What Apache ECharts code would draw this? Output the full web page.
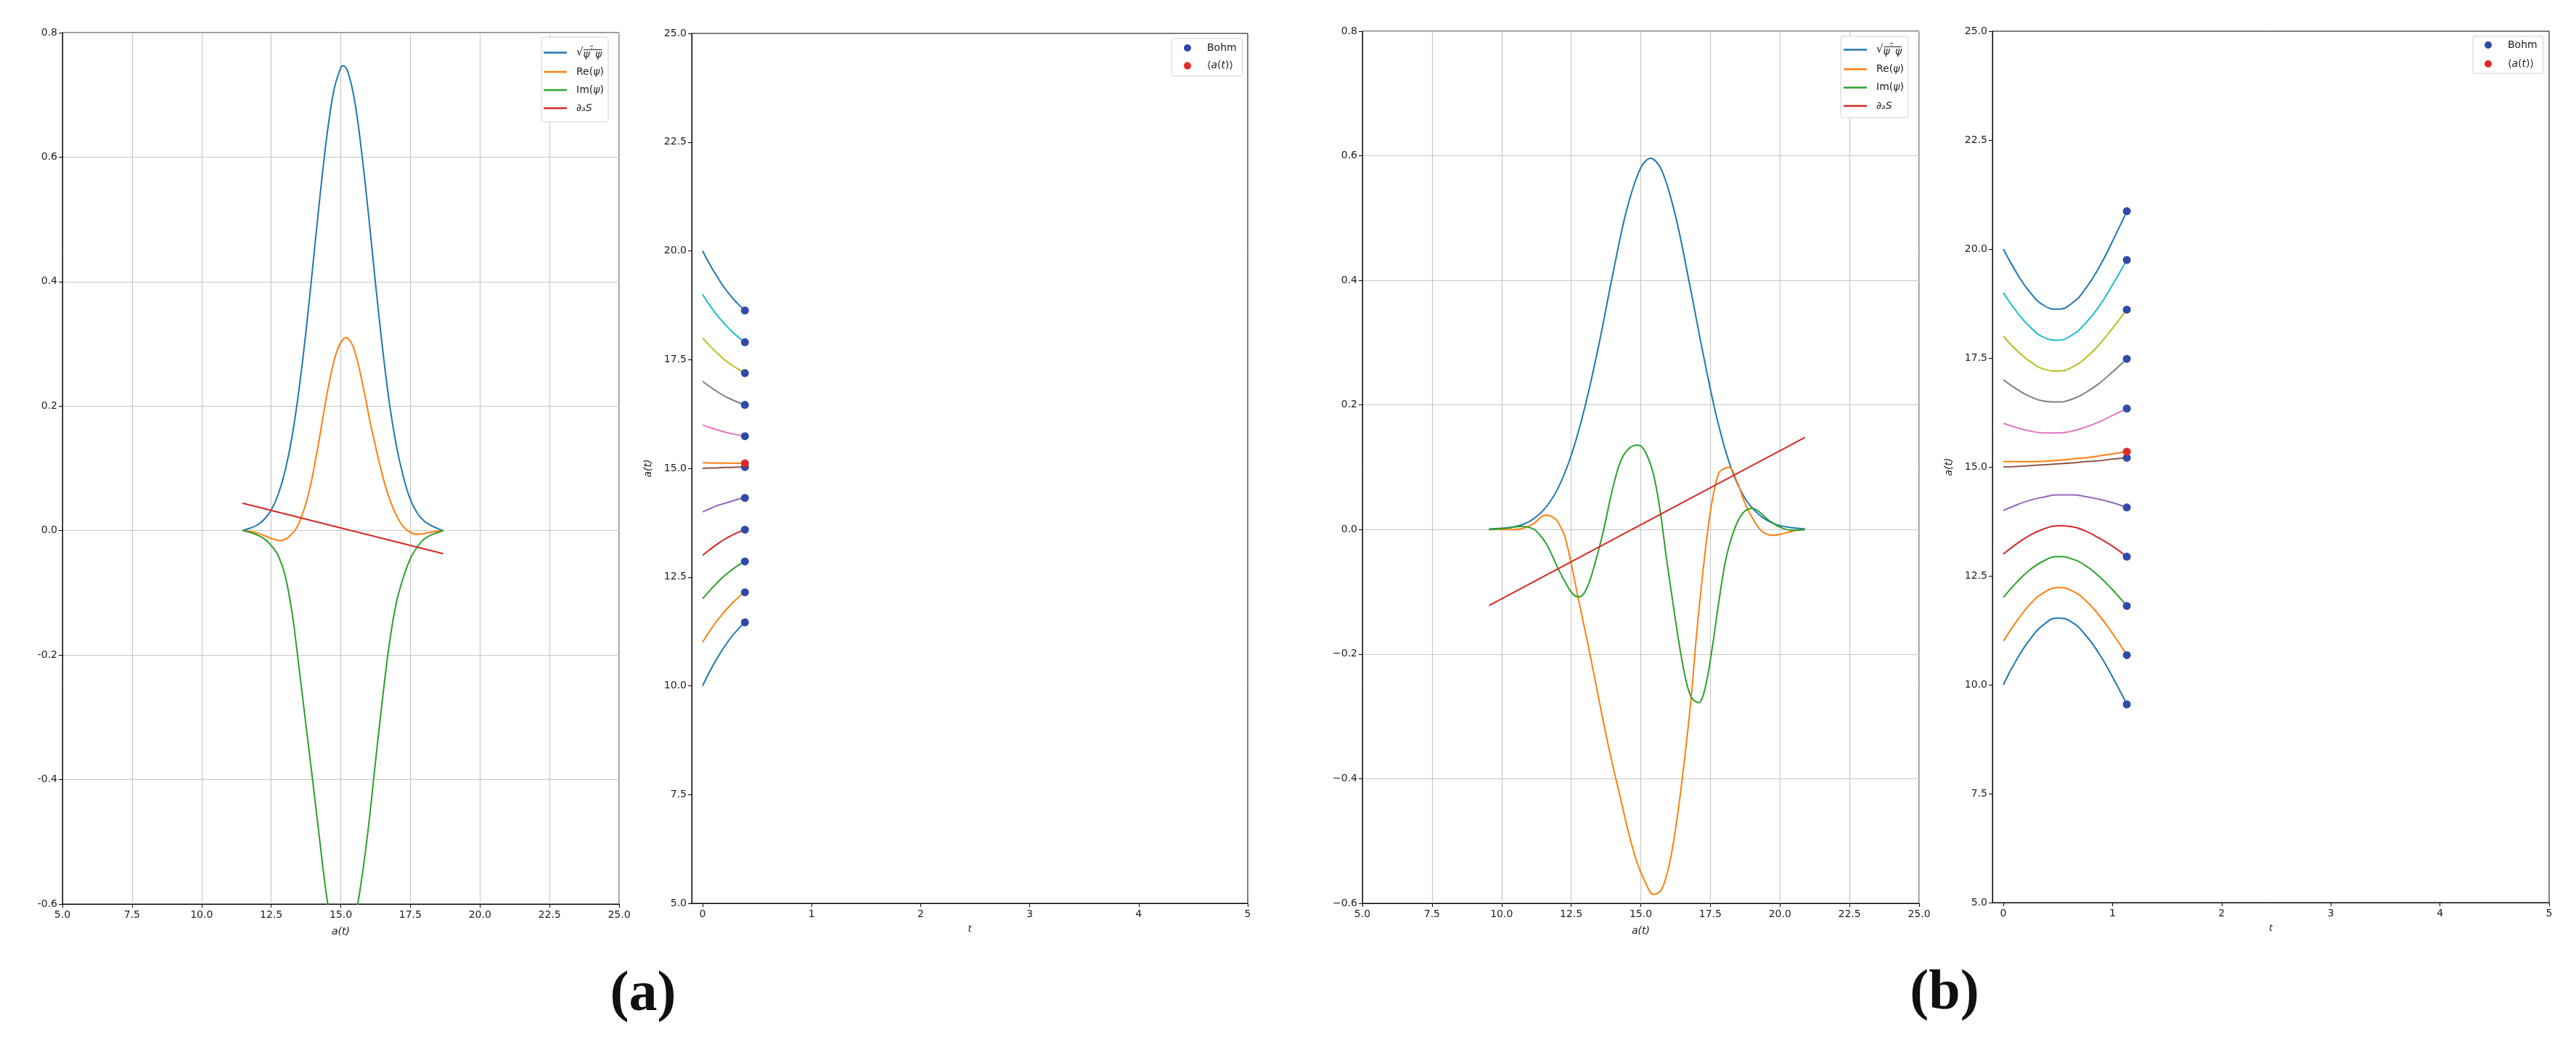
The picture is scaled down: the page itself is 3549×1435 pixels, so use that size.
<!DOCTYPE html>
<html>
<head>
<meta charset="utf-8">
<script src="https://cdn.jsdelivr.net/npm/echarts@6/dist/echarts.min.js"></script>
<style>
html,body{margin:0;padding:0;background:#fff;}
#chart{width:3549px;height:1435px;}
</style>
</head>
<body>
<div id="chart"></div>
<script>
// ---------- panel (a), left: wave function ----------
const aAbsX = [11.47, 11.75, 12.0, 12.25, 12.5, 12.75, 13.0, 13.25, 13.5, 13.75, 14.0, 14.25, 14.5, 14.75, 15.0, 15.09, 15.25, 15.5, 15.75, 16.0, 16.25, 16.5, 16.75, 17.0, 17.25, 17.5, 17.75, 18.0, 18.25, 18.5, 18.68];
const aAbsY = [0, 0.004, 0.009, 0.018, 0.033, 0.058, 0.096, 0.151, 0.227, 0.320, 0.427, 0.536, 0.634, 0.707, 0.744, 0.747, 0.738, 0.690, 0.608, 0.506, 0.396, 0.293, 0.204, 0.136, 0.086, 0.050, 0.028, 0.015, 0.008, 0.003, 0];
const aReX = [11.47, 11.7, 12.0, 12.3, 12.6, 12.85, 13.05, 13.2, 13.35, 13.5, 13.65, 13.8, 13.95, 14.06, 14.2, 14.35, 14.5, 14.65, 14.8, 14.95, 15.1, 15.2, 15.3, 15.45, 15.6, 15.75, 15.9, 16.05, 16.2, 16.4, 16.6, 16.8, 17.0, 17.2, 17.4, 17.6, 17.8, 18.0, 18.2, 18.45, 18.68];
const aReY = [0, -0.001, -0.004, -0.009, -0.014, -0.016, -0.013, -0.007, 0, 0.012, 0.030, 0.052, 0.080, 0.106, 0.140, 0.180, 0.218, 0.252, 0.280, 0.298, 0.308, 0.310, 0.307, 0.295, 0.272, 0.243, 0.210, 0.175, 0.145, 0.106, 0.072, 0.045, 0.024, 0.009, 0, -0.005, -0.006, -0.005, -0.003, -0.001, 0];
const aImX = aAbsX;
const aImY = [0, -0.003, -0.007, -0.013, -0.024, -0.040, -0.072, -0.132, -0.220, -0.313, -0.405, -0.500, -0.590, -0.646, -0.676, -0.681, -0.670, -0.626, -0.560, -0.474, -0.370, -0.270, -0.180, -0.115, -0.075, -0.045, -0.026, -0.0135, -0.0068, -0.003, 0];
const aDsX = [11.47, 18.68];
const aDsY = [0.044, -0.037];

// ---------- panel (a), right: trajectories ----------
const tA = [0, 0.065, 0.13, 0.195, 0.26, 0.325, 0.388];
const aTraj10 = [10, 10.33, 10.62, 10.88, 11.11, 11.30, 11.46];
const aTraj11 = [11, 11.26, 11.49, 11.69, 11.87, 12.03, 12.15];
const aTraj12 = [12, 12.19, 12.36, 12.52, 12.65, 12.77, 12.86];
const aTraj13 = [13, 13.13, 13.25, 13.36, 13.45, 13.53, 13.59];
const aTraj14 = [14, 14.07, 14.14, 14.19, 14.24, 14.29, 14.32];
const aTraj15 = [15, 15.01, 15.01, 15.02, 15.02, 15.03, 15.03];
const aTraj16 = [16, 15.94, 15.89, 15.84, 15.80, 15.77, 15.74];
const aTraj17 = [17, 16.88, 16.77, 16.67, 16.59, 16.52, 16.46];
const aTraj18 = [18, 17.82, 17.66, 17.51, 17.39, 17.28, 17.19];
const aTraj19 = [19, 18.75, 18.53, 18.34, 18.17, 18.02, 17.90];
const aTraj20 = [20, 19.69, 19.42, 19.17, 18.96, 18.78, 18.63];
const aMean  = [15.13, 15.125, 15.12, 15.12, 15.12, 15.115, 15.115];

// ---------- panel (b), left: wave function ----------
const bAbsX = [9.55, 10.0, 10.5, 11.0, 11.5, 12.0, 12.5, 13.0, 13.5, 14.0, 14.5, 15.0, 15.35, 15.75, 16.25, 16.75, 17.25, 17.75, 18.25, 18.75, 19.25, 19.75, 20.25, 20.9];
const bAbsY = [0.001, 0.002, 0.005, 0.013, 0.031, 0.064, 0.119, 0.198, 0.298, 0.411, 0.514, 0.581, 0.596, 0.577, 0.503, 0.395, 0.280, 0.176, 0.098, 0.050, 0.024, 0.010, 0.004, 0.001];
const bReX = [9.55, 10.2, 10.68, 11.0, 11.18, 11.48, 11.65, 11.8, 11.97, 12.12, 12.27, 12.49, 12.77, 13.07, 13.37, 13.67, 13.97, 14.27, 14.57, 14.87, 15.16, 15.46, 15.76, 16.06, 16.31, 16.56, 16.81, 17.01, 17.21, 17.41, 17.61, 17.81, 18.0, 18.17, 18.45, 18.75, 19.05, 19.35, 19.75, 20.15, 20.55, 20.9];
const bReY = [0, 0, 0.001, 0.006, 0.0104, 0.022, 0.023, 0.021, 0.0156, 0.004, -0.0104, -0.052, -0.114, -0.177, -0.244, -0.312, -0.374, -0.431, -0.488, -0.535, -0.566, -0.586, -0.577, -0.530, -0.462, -0.374, -0.270, -0.166, -0.078, 0, 0.057, 0.091, 0.098, 0.100, 0.078, 0.0416, 0.0156, -0.0026, -0.0094, -0.0062, -0.0016, 0];
const bImX = [9.55, 10.18, 10.68, 10.95, 11.18, 11.38, 11.58, 11.78, 11.97, 12.27, 12.57, 12.8, 13.07, 13.37, 13.67, 13.97, 14.27, 14.57, 14.9, 15.16, 15.46, 15.71, 15.91, 16.16, 16.41, 16.66, 16.86, 17.08, 17.31, 17.56, 17.81, 18.06, 18.36, 18.66, 19.0, 19.25, 19.65, 20.15, 20.45, 20.9];
const bImY = [0, 0.002, 0.005, 0.004, 0, -0.009, -0.021, -0.038, -0.057, -0.083, -0.104, -0.108, -0.0935, -0.052, 0, 0.062, 0.109, 0.130, 0.1355, 0.125, 0.088, 0.026, -0.042, -0.119, -0.192, -0.249, -0.272, -0.278, -0.255, -0.192, -0.114, -0.047, 0, 0.026, 0.034, 0.0286, 0.013, 0.001, -0.001, 0];
const bDsX = [9.55, 20.9];
const bDsY = [-0.122, 0.148];

// ---------- panel (b), right: trajectories ----------
const tB = [0, 0.125, 0.25, 0.375, 0.5, 0.625, 0.75, 0.875, 1.0, 1.131];
const bTraj10 = [10, 10.59, 11.06, 11.39, 11.53, 11.44, 11.15, 10.72, 10.18, 9.55];
const bTraj11 = [11, 11.47, 11.86, 12.12, 12.23, 12.16, 11.94, 11.60, 11.18, 10.68];
const bTraj12 = [12, 12.36, 12.65, 12.85, 12.94, 12.89, 12.74, 12.49, 12.18, 11.81];
const bTraj13 = [13, 13.24, 13.44, 13.58, 13.65, 13.63, 13.53, 13.37, 13.18, 12.94];
const bTraj14 = [14, 14.13, 14.24, 14.31, 14.36, 14.36, 14.32, 14.26, 14.18, 14.07];
const bTraj15 = [15, 15.01, 15.03, 15.05, 15.07, 15.09, 15.12, 15.14, 15.18, 15.21];
const bTraj16 = [16, 15.90, 15.82, 15.78, 15.78, 15.82, 15.91, 16.03, 16.18, 16.34];
const bTraj17 = [17, 16.78, 16.61, 16.51, 16.49, 16.55, 16.70, 16.91, 17.18, 17.48];
const bTraj18 = [18, 17.67, 17.41, 17.24, 17.20, 17.28, 17.49, 17.80, 18.18, 18.61];
const bTraj19 = [19, 18.55, 18.20, 17.97, 17.91, 18.02, 18.29, 18.68, 19.18, 19.75];
const bTraj20 = [20, 19.44, 18.99, 18.70, 18.62, 18.75, 19.08, 19.57, 20.18, 20.87];
const bMean  = [15.12, 15.12, 15.12, 15.13, 15.15, 15.18, 15.21, 15.25, 15.30, 15.35];

// ---------- tick labels / names ----------
const leftXTicks = [5, 7.5, 10, 12.5, 15, 17.5, 20, 22.5, 25];
const rightXTicks = [0, 1, 2, 3, 4, 5];
const NAME_ABS = 'sqrt(\u03C8*\u03C8)';
const NAME_RE = 'Re(\u03C8)';
const NAME_IM = 'Im(\u03C8)';
const NAME_DS = '\u2202\u2090S';
const NAME_BOHM = 'Bohm';
const NAME_MEAN = '\u27E8a(t)\u27E9';

const tab10 = ['#1f77b4','#ff7f0e','#2ca02c','#d62728','#9467bd','#8c564b','#e377c2','#7f7f7f','#bcbd22','#17becf'];
const BOHM_COLOR = '#2f4aa8';
const MEAN_COLOR = '#e02a2a';
const FONT = 'DejaVu Sans';

const zip = (xs, ys) => xs.map((x, i) => [x, ys[i]]);

// small canvas used as an overline decoration behind the radicand
const ovCanvas = document.createElement('canvas');
ovCanvas.width = 4; ovCanvas.height = 40;
(function () { const c = ovCanvas.getContext('2d'); c.fillStyle = '#222'; c.fillRect(0, 0, 4, 2); })();

function fmtLegend(name) {
  if (name === NAME_ABS) return '{sq|\u221A}{ov|\u03C8}{ovs|*}{ov|\u2009\u03C8}';
  if (name === NAME_RE) return 'Re({it|\u03C8})';
  if (name === NAME_IM) return 'Im({it|\u03C8})';
  if (name === NAME_DS) return '\u2202{it|\u2090S}';
  if (name === NAME_MEAN) return '\u27E8{it|a}({it|t})\u27E9';
  return name;
}
const richLegend = {
  it: { fontStyle: 'italic', fontSize: 14, color: '#222', fontFamily: FONT },
  sq: { fontSize: 15, color: '#222', fontFamily: FONT, lineHeight: 19 },
  ov: { fontStyle: 'italic', fontSize: 14, color: '#222', fontFamily: FONT, lineHeight: 19, verticalAlign: 'bottom',
        backgroundColor: { image: ovCanvas } },
  ovs: { fontSize: 9, color: '#222', fontFamily: FONT, lineHeight: 19, verticalAlign: 'top', padding: [3, 0, 0, 0],
        backgroundColor: { image: ovCanvas } }
};

function waveXAxis(idx) {
  return {
    gridIndex: idx, type: 'value', min: 5, max: 25, interval: 2.5,
    axisLine: { show: true, onZero: false, lineStyle: { color: '#000', width: 1 } },
    axisTick: { show: true, length: 5, lineStyle: { color: '#000' } },
    axisLabel: { fontSize: 14, color: '#222', fontFamily: FONT, margin: 8, formatter: v => v.toFixed(1) },
    splitLine: { show: true, lineStyle: { color: '#c8c8c8', width: 1.2 } },
    name: 'a(t)', nameLocation: 'middle', nameGap: 31,
    nameTextStyle: { fontSize: 14, fontStyle: 'italic', color: '#222', fontFamily: FONT }
  };
}
function waveYAxis(idx, unicodeMinus) {
  return {
    gridIndex: idx, type: 'value', min: -0.6, max: 0.8, interval: 0.2,
    axisLine: { show: true, onZero: false, lineStyle: { color: '#000', width: 1 } },
    axisTick: { show: true, length: 5, lineStyle: { color: '#000' } },
    axisLabel: { fontSize: 14, color: '#222', fontFamily: FONT, margin: 7,
      formatter: v => { let s = (Math.abs(v) < 1e-9 ? 0 : v).toFixed(1); return unicodeMinus ? s.replace('-', '\u2212') : s; } },
    splitLine: { show: true, lineStyle: { color: '#c8c8c8', width: 1.2 } }
  };
}
function trajXAxis(idx) {
  return {
    gridIndex: idx, type: 'value', min: -0.1, max: 5,
    axisLine: { show: true, onZero: false, lineStyle: { color: '#000', width: 1 } },
    axisTick: { show: true, length: 5, lineStyle: { color: '#000' }, customValues: rightXTicks },
    axisLabel: { fontSize: 14, color: '#222', fontFamily: FONT, margin: 8, customValues: rightXTicks,
      formatter: v => (Math.abs(v - Math.round(v)) < 1e-9 && v >= 0) ? String(Math.round(v)) : '' },
    splitLine: { show: false },
    name: 't', nameLocation: 'middle', nameGap: 29,
    nameTextStyle: { fontSize: 13, fontStyle: 'italic', color: '#222', fontFamily: FONT }
  };
}
function trajYAxis(idx) {
  return {
    gridIndex: idx, type: 'value', min: 5, max: 25, interval: 2.5,
    axisLine: { show: true, onZero: false, lineStyle: { color: '#000', width: 1 } },
    axisTick: { show: true, length: 5, lineStyle: { color: '#000' } },
    axisLabel: { fontSize: 14, color: '#222', fontFamily: FONT, margin: 7, formatter: v => v.toFixed(1) },
    splitLine: { show: false },
    name: 'a(t)', nameLocation: 'middle', nameGap: 53,
    nameTextStyle: { fontSize: 14, fontStyle: 'italic', color: '#222', fontFamily: FONT }
  };
}

function waveSeries(idx, absX, absY, reX, reY, imX, imY, dsX, dsY) {
  const mk = (name, xs, ys, color, smooth) => ({
    type: 'line', name, xAxisIndex: idx, yAxisIndex: idx, data: zip(xs, ys),
    showSymbol: false, symbol: 'none', smooth, clip: true,
    lineStyle: { color, width: 2 }, itemStyle: { color }
  });
  return [
    mk(NAME_ABS, absX, absY, tab10[0], 0.35),
    mk(NAME_RE, reX, reY, tab10[1], 0.35),
    mk(NAME_IM, imX, imY, tab10[2], 0.35),
    mk(NAME_DS, dsX, dsY, tab10[3], false)
  ];
}
function trajSeries(idx, ts, trajs, mean, tag) {
  const out = [];
  trajs.forEach((arr, i) => {
    const c = tab10[i % 10];
    out.push({ type: 'line', name: tag + ' traj ' + i, xAxisIndex: idx, yAxisIndex: idx, data: zip(ts, arr),
      showSymbol: false, symbol: 'none', smooth: 0.5, lineStyle: { color: c, width: 2 }, itemStyle: { color: c } });
  });
  out.push({ type: 'line', name: tag + ' mean line', xAxisIndex: idx, yAxisIndex: idx, data: zip(ts, mean),
    showSymbol: false, symbol: 'none', smooth: 0.5, lineStyle: { color: tab10[1], width: 2 }, itemStyle: { color: tab10[1] } });
  const last = ts.length - 1;
  out.push({ type: 'scatter', name: NAME_BOHM, xAxisIndex: idx, yAxisIndex: idx,
    data: trajs.map(arr => [ts[last], arr[last]]), symbolSize: 11, itemStyle: { color: BOHM_COLOR, opacity: 1 }, z: 5 });
  out.push({ type: 'scatter', name: NAME_MEAN, xAxisIndex: idx, yAxisIndex: idx,
    data: [[ts[last], mean[last]]], symbolSize: 11, itemStyle: { color: MEAN_COLOR, opacity: 1 }, z: 6 });
  return out;
}

const trajsA = [aTraj10, aTraj11, aTraj12, aTraj13, aTraj14, aTraj15, aTraj16, aTraj17, aTraj18, aTraj19, aTraj20];
const trajsB = [bTraj10, bTraj11, bTraj12, bTraj13, bTraj14, bTraj15, bTraj16, bTraj17, bTraj18, bTraj19, bTraj20];

function waveLegend(left, top, pad, gap) {
  return {
    data: [NAME_ABS, NAME_RE, NAME_IM, NAME_DS], orient: 'vertical', left, top, padding: pad, itemGap: gap,
    itemWidth: 32, itemHeight: 2.5, icon: 'rect',
    backgroundColor: '#fff', borderColor: '#d0d0d0', borderWidth: 1, borderRadius: 3,
    textStyle: { fontSize: 14, color: '#222', fontFamily: FONT, lineHeight: 16, padding: [0, 0, 0, 8], rich: richLegend },
    formatter: fmtLegend, selectedMode: false
  };
}
function trajLegend(left, top, pad, gap) {
  return {
    data: [NAME_BOHM, NAME_MEAN], orient: 'vertical', left, top, padding: pad, itemGap: gap,
    itemWidth: 10, itemHeight: 10, icon: 'circle',
    backgroundColor: '#fff', borderColor: '#d0d0d0', borderWidth: 1, borderRadius: 3,
    textStyle: { fontSize: 14, color: '#222', fontFamily: FONT, lineHeight: 16, padding: [0, 0, 0, 17], rich: richLegend },
    formatter: fmtLegend, selectedMode: false
  };
}

const chart = echarts.init(document.getElementById('chart'), null, { renderer: 'canvas' });
const gridStyle = { show: true, borderColor: '#000', borderWidth: 1, backgroundColor: 'transparent' };
chart.setOption({
  animation: false,
  backgroundColor: '#fff',
  textStyle: { fontFamily: FONT },
  grid: [
    Object.assign({ left: 86, top: 45, width: 767, height: 1200 }, gridStyle),
    Object.assign({ left: 953, top: 46, width: 766, height: 1198 }, gridStyle),
    Object.assign({ left: 1877, top: 43, width: 767, height: 1201 }, gridStyle),
    Object.assign({ left: 2745, top: 43, width: 767, height: 1200 }, gridStyle)
  ],
  xAxis: [waveXAxis(0), trajXAxis(1), waveXAxis(2), trajXAxis(3)],
  yAxis: [waveYAxis(0, false), trajYAxis(1), waveYAxis(2, true), trajYAxis(3)],
  legend: [
    waveLegend(746, 51, [12, 6, 11, 3], 9),
    trajLegend(1614, 53, [5, 8, 6, 17], 8.6),
    waveLegend(2536, 50, [9, 6, 8, 4], 9.3),
    trajLegend(3407, 50, [4, 8, 5, 16], 10)
  ],
  series: [].concat(
    waveSeries(0, aAbsX, aAbsY, aReX, aReY, aImX, aImY, aDsX, aDsY),
    trajSeries(1, tA, trajsA, aMean, 'a'),
    waveSeries(2, bAbsX, bAbsY, bReX, bReY, bImX, bImY, bDsX, bDsY),
    trajSeries(3, tB, trajsB, bMean, 'b')
  ),
  graphic: [
    { type: 'text', x: 886, y: 1371, style: { text: '(a)', fontSize: 78, fontWeight: 'bold', fontFamily: 'Liberation Serif', fill: '#111', align: 'center', verticalAlign: 'middle' } },
    { type: 'text', x: 2679, y: 1369, style: { text: '(b)', fontSize: 78, fontWeight: 'bold', fontFamily: 'Liberation Serif', fill: '#111', align: 'center', verticalAlign: 'middle' } }
  ]
});
</script>
</body>
</html>
